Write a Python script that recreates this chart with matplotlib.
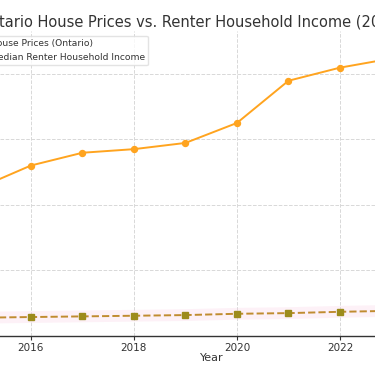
import matplotlib
matplotlib.use("Agg")
import matplotlib.pyplot as plt
import numpy as np

years = [2015, 2016, 2017, 2018, 2019, 2020, 2021, 2022, 2023]
house_prices = [452000, 520000, 559000, 570000, 589000, 650000, 779000, 819000, 847000]
renter_income = [55000, 57000, 59000, 61000, 63000, 67000, 69000, 73000, 76000]
band = 18000
title = "Ontario House Prices vs. Renter Household Income (2015-2023)"
labels = ["House Prices (Ontario)", "Median Renter Household Income"]
yticks = [0, 200000, 400000, 600000, 800000]

W, H = 375, 366
fig = plt.figure(figsize=(W / 100, H / 100), dpi=100)
ax_bottom = 335.7
ax_top = 31.0
ax = fig.add_axes([0, (H - ax_bottom) / H, 1, (ax_bottom - ax_top) / H])

ax.fill_between(years, np.array(renter_income) - band, np.array(renter_income) + band,
                color="#f9c8e0", alpha=0.25, linewidth=0)
ax.plot(years, house_prices, color="#ffa41f", marker="o", markersize=4.3,
        linewidth=1.4, label=labels[0])
ax.plot(years, renter_income, color="#c08c30", linestyle="--", marker="s", markersize=4.0,
        markerfacecolor="#9c8c1c", markeredgecolor="#9c8c1c", linewidth=1.4, label=labels[1])

ax.set_xlim(2015.40, 2022.68)
ax.set_ylim(11800, 931000)
ax.set_yticks(yticks)
ax.set_xticks([2016, 2018, 2020, 2022])
ax.grid(True, color="#d8d8d8", linestyle="--", linewidth=0.7)
ax.set_axisbelow(True)
for s in ["top", "right", "left"]:
    ax.spines[s].set_visible(False)
ax.spines["bottom"].set_color("#333333")
ax.spines["bottom"].set_linewidth(1.0)
ax.tick_params(axis="x", labelsize=7.5, colors="#333333", length=3, width=0.8, pad=2.5)
ax.tick_params(axis="y", left=False, labelleft=False)

fig.text(212 / W, 1 - 26.5 / H, title, ha="center", va="baseline", fontsize=10.5, color="#333333")
fig.text(212 / W, 1 - 361 / H, "Year", ha="center", va="baseline", fontsize=8, color="#333333")

leg = ax.legend(loc="upper right", bbox_to_anchor=(148.3 / W, 1 - 35.5 / H),
                bbox_transform=fig.transFigure, borderaxespad=0, fontsize=6.6,
                frameon=True, framealpha=0.8, edgecolor="#dddddd", fancybox=True)
for t in leg.get_texts():
    t.set_color("#333333")

fig.savefig("out.png", dpi=100)
